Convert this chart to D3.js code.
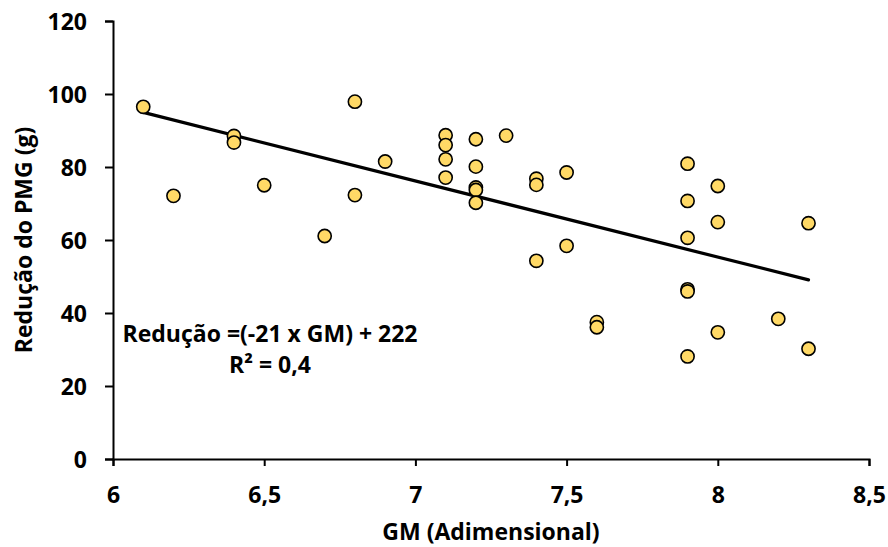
<!DOCTYPE html>
<html>
<head>
<meta charset="utf-8">
<script src="https://cdn.jsdelivr.net/npm/d3@7"></script>
<style>
  body { margin: 0; background: #fff; }
  svg text { font-family: "Open Sans", sans-serif; font-weight: 700; font-size: 23px; fill: #000; }
</style>
</head>
<body>
<div id="chart"></div>
<script>
// GM values and reduction of PMG (g)
var gm = [6.1, 6.2, 6.4, 6.4, 6.5, 6.7, 6.8, 6.8, 6.9,
          7.1, 7.1, 7.1, 7.1, 7.2, 7.2, 7.2, 7.2, 7.2, 7.3,
          7.4, 7.4, 7.4, 7.5, 7.5, 7.6, 7.6,
          7.9, 7.9, 7.9, 7.9, 7.9, 7.9, 8.0, 8.0, 8.0, 8.2, 8.3, 8.3];
var reducao = [96.5, 72.1, 88.5, 86.7, 75.0, 61.1, 97.9, 72.3, 81.5,
               88.7, 86.0, 82.1, 77.1, 87.6, 80.1, 74.4, 73.7, 70.2, 88.6,
               76.8, 75.1, 54.3, 78.5, 58.4, 37.5, 36.1,
               80.9, 70.7, 60.6, 46.5, 45.9, 28.1, 74.8, 64.9, 34.7, 38.4, 64.6, 30.2];

// fitted line as drawn in the figure
var trendCoef = { slope: -20.86, intercept: 222.2 };
var trendRange = [6.1, 8.3];

var xTicks = [6, 6.5, 7, 7.5, 8, 8.5];
var yTicks = [0, 20, 40, 60, 80, 100, 120];

var equationLines = ["Redução =(-21 x GM) + 222", "R² = 0,4"];
var xTitle = "GM (Adimensional)";
var yTitle = "Redução do PMG (g)";

var width = 888, height = 547;
var margin = {left: 113, right: 19, top: 21, bottom: 88};

var svg = d3.select('#chart')
    .append('svg')
    .attr('width', width)
    .attr('height', height);

var x = d3.scaleLinear()
    .domain([6, 8.5])
    .range([margin.left, width - margin.right]);

var y = d3.scaleLinear()
    .domain([0, 120])
    .range([height - margin.bottom, margin.top]);

var fmt = function(d){ return String(d).replace('.', ','); };

// y axis
var yAxis = svg.append('g')
    .attr('transform', 'translate(' + margin.left + ',0)')
    .call(d3.axisLeft(y).tickValues(yTicks).tickSize(8).tickPadding(18).tickFormat(fmt));

// x axis
var xAxis = svg.append('g')
    .attr('transform', 'translate(0,' + y(0) + ')')
    .call(d3.axisBottom(x).tickValues(xTicks).tickSize(7).tickPadding(20).tickFormat(fmt));

svg.selectAll('.domain')
    .attr('stroke', '#000')
    .attr('stroke-width', 2);
svg.selectAll('.tick line')
    .attr('stroke', '#000')
    .attr('stroke-width', 2);
svg.selectAll('.tick text')
    .attr('font-family', '"Open Sans", sans-serif')
    .attr('font-weight', 700)
    .attr('font-size', 23)
    .attr('fill', '#000');
yAxis.selectAll('.tick text').attr('dy', '0.36em');
xAxis.selectAll('.tick text').attr('dy', '0.72em');

// trend line
svg.append('line')
    .attr('x1', x(trendRange[0]))
    .attr('y1', y(trendCoef.slope * trendRange[0] + trendCoef.intercept))
    .attr('x2', x(trendRange[1]))
    .attr('y2', y(trendCoef.slope * trendRange[1] + trendCoef.intercept))
    .attr('stroke', '#000')
    .attr('stroke-width', 3.2)
    .attr('stroke-linecap', 'round');

// points
svg.selectAll('circle')
    .data(gm)
    .enter()
    .append('circle')
    .attr('cx', function(d){ return x(d); })
    .attr('cy', function(d, i){ return y(reducao[i]); })
    .attr('r', 6.6)
    .style('fill', '#FFD966')
    .attr('stroke', '#000')
    .attr('stroke-width', 1.6);

// equation
svg.selectAll('.eq')
    .data(equationLines)
    .enter()
    .append('text')
    .attr('class', 'eq')
    .attr('x', 270)
    .attr('y', function(d, i){ return 341.5 + i * 31.7; })
    .attr('text-anchor', 'middle')
    .text(function(d){ return d; });

// axis titles
svg.append('text')
    .attr('x', (x(6) + x(8.5)) / 2)
    .attr('y', 540)
    .attr('text-anchor', 'middle')
    .text(xTitle);

svg.append('text')
    .attr('transform', 'translate(32,' + ((y(0) + y(120)) / 2) + ') rotate(-90)')
    .attr('text-anchor', 'middle')
    .text(yTitle);
</script>
</body>
</html>
